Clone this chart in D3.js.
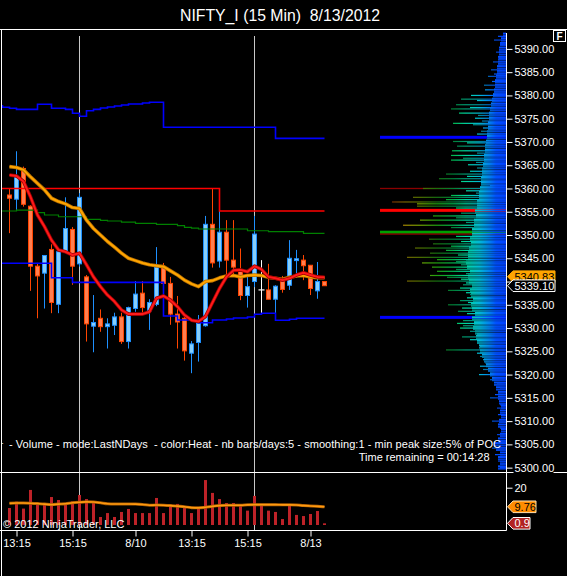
<!DOCTYPE html>
<html><head><meta charset="utf-8">
<script src="https://cdn.jsdelivr.net/npm/d3@7/dist/d3.min.js"></script>
<style>
html,body{margin:0;padding:0;background:#000;overflow:hidden}
svg{display:block}
text{font-family:"Liberation Sans",Arial,sans-serif;white-space:pre}
</style></head><body>
<svg id="chart" width="567" height="576"></svg>
<script>
// ---------------- DATA ----------------
const openP  = [5358.6,5357.7,5364.3,5356.2,5343.3,5341.8,5346.9,5335.1,5346.4,5351.2,5343.8,5341.0,5330.4,5332.1,5330.3,5330.6,5332.4,5327.1,5334.2,5337.5,5333.7,5335.1,5343.2,5339.6,5333.0,5332.1,5324.6,5326.9,5330.5,5352.3,5344.4,5350.6,5344.6,5342.6,5337.0,5340.0,5338.2,5338.2,5336.2,5340.3,5339.2,5344.5,5344.6,5343.5,5338.0,5340.0];
const highP  = [5360.0,5368.0,5364.7,5356.4,5344.0,5345.7,5348.0,5346.5,5358.1,5351.7,5359.0,5341.4,5337.1,5334.0,5332.1,5333.3,5333.3,5334.6,5340.1,5340.1,5336.2,5347.4,5344.0,5341.0,5336.9,5332.4,5327.2,5332.8,5354.1,5360.0,5357.0,5353.2,5353.2,5347.1,5341.0,5354.1,5344.6,5343.8,5339.2,5341.2,5348.9,5346.8,5345.7,5343.5,5344.2,5340.0];
const lowP   = [5350.4,5355.4,5356.1,5338.0,5332.1,5334.2,5333.2,5333.2,5346.3,5339.3,5343.2,5327.1,5324.8,5329.2,5325.6,5328.5,5326.6,5325.6,5333.5,5333.2,5329.6,5334.7,5337.6,5330.7,5325.6,5323.0,5320.3,5322.8,5330.3,5343.0,5343.0,5341.4,5341.0,5336.0,5334.4,5338.8,5333.2,5336.2,5331.6,5337.6,5338.2,5340.8,5340.3,5337.1,5336.3,5339.1];
const closeP = [5357.9,5362.5,5356.6,5343.3,5341.2,5345.6,5335.5,5346.4,5351.4,5343.3,5358.1,5330.9,5331.2,5330.3,5330.9,5332.4,5327.1,5334.4,5337.3,5334.4,5335.5,5343.1,5339.6,5333.0,5331.3,5325.1,5326.6,5331.0,5352.3,5344.0,5350.6,5344.6,5343.1,5337.0,5338.9,5350.2,5338.2,5336.2,5339.0,5338.3,5345.0,5344.9,5343.4,5338.5,5340.0,5339.1];

// moving averages (one value per bar)
const maSlow = [5364.7,5364.5,5364.0,5362.5,5361.1,5359.7,5357.9,5357.2,5356.7,5355.9,5355.7,5353.2,5351.4,5350.0,5348.6,5347.4,5346.1,5345.0,5344.5,5344.0,5343.6,5343.4,5343.2,5342.3,5341.4,5340.3,5339.5,5338.9,5340.0,5340.2,5340.8,5341.2,5341.3,5341.0,5341.3,5341.4,5341.3,5340.9,5340.7,5340.5,5340.9,5341.2,5341.3,5341.0,5340.8,5340.83];
const maFast = [5362.9,5362.7,5361.5,5358.2,5354.3,5351.8,5348.9,5346.8,5346.4,5345.7,5346.1,5343.6,5341.0,5338.9,5337.1,5335.7,5333.9,5333.0,5333.0,5333.0,5333.5,5336.4,5336.9,5336.0,5334.6,5332.8,5331.7,5331.4,5332.5,5335.5,5338.5,5341.0,5342.4,5342.5,5342.1,5343.3,5342.6,5341.0,5340.7,5340.3,5340.7,5341.4,5341.9,5341.4,5341.0,5340.9];

// step indicator lines, values for bars -2 .. 45
const stepUpper = [5377.79,5377.45,5377.23,5377.01,5377.01,5377.01,5378.09,5378.09,5377.23,5377.23,5377.01,5376.16,5375.51,5376.71,5377.01,5377.29,5377.51,5377.72,5377.94,5378.15,5378.15,5378.37,5378.52,5378.52,
  5373.15,5373.15,5373.15,5373.15,5373.15,5373.15,5373.15,5373.15,5373.15,5373.15,5373.15,5373.15,5373.15,5373.15,5373.15,5373.15,
  5370.78,5370.78,5370.78,5370.78,5370.78,5370.78,5370.78,5370.78];
const stepLower = [5343.92,5343.92,5343.92,5343.92,5343.92,5343.92,5343.92,5343.92,5340.82,5340.82,5340.82,
  5339.83,5339.83,5339.83,5339.83,5339.83,5339.83,5339.83,5339.83,5339.83,5339.83,5339.83,5339.83,5339.83,
  5332.59,5332.59,5331.73,5331.73,5331.73,5331.15,5331.15,5331.73,5331.73,5331.95,5332.16,5332.16,5332.38,5332.96,5333.17,5333.17,
  5331.67,5331.67,5331.88,5332.10,5332.10,5332.10,5332.10,5332.10];
const stepGreen = [5355.16,5355.16,5355.16,5355.37,5355.37,5355.37,5354.79,5354.30,5354.30,5353.93,5353.93,5353.93,5353.93,5353.37,5353.37,5353.16,5353.01,5353.01,5352.79,5352.79,5352.51,5352.51,5352.51,5352.30,5352.30,5352.30,5352.00,5351.65,5351.50,
  5351.29,5351.29,5351.29,5351.29,5351.29,5351.29,5351.29,5350.92,5350.92,5350.92,5350.71,5350.71,5350.71,5350.71,5350.71,5350.37,5350.37,5350.37,5350.37];
const stepRed = [5360,5360,5360,5360,5360,5360,5360,5360,5360,5360,5360,5360,5360,5360,5360,5360,5360,5360,5360,5360,5360,5360,5360,5360,5360,5360,5360,5360,5360,5360,5360,5360,
  5355.16,5355.16,5355.16,5355.16,5355.16,5355.16,5355.16,5355.16,5355.16,5355.16,5355.16,5355.16,5355.16,5355.16,5355.16,5355.16];

const volume = [9.1,12.5,8.8,18.8,11.3,11.3,15.0,13.4,11.3,12.7,16.1,13.9,12.0,4.3,6.4,4.3,7.0,8.6,6.4,6.4,6.4,14.5,6.4,10.9,11.3,9.1,6.4,9.1,24.1,17.2,13.9,11.8,11.8,10.9,7.7,15.6,11.3,7.7,7.0,3.2,10.4,5.4,4.8,5.9,7.5,0.9];
const volMA  = [11.6,11.8,11.8,11.7,11.5,11.2,10.9,11.2,11.4,11.9,12.2,12.4,12.3,11.9,11.4,11.3,11.3,11.3,11.2,11.0,10.6,10.7,10.6,10.4,10.1,9.8,9.3,9.2,9.5,10.0,10.4,10.6,10.6,10.6,10.8,10.9,10.9,10.9,10.9,10.8,10.8,10.7,10.4,10.2,10.0,9.76];

const timeTickBars   = [1,9,18,26,34,43];
const timeTickLabels = ['13:15','15:15','8/10','13:15','15:15','8/13'];
const sessionBreaks  = [10,35];
const priceTicks = [5300,5305,5310,5315,5320,5325,5330,5335,5340,5345,5350,5355,5360,5365,5370,5375,5380,5385,5390];
const volTicks = [20];

// volume profile (last N days): dense body per price level + individual rows + peak levels
const profLevels = [5300,5301,5302,5303,5304,5305,5306,5307,5308,5309,5310,5311,5312,5313,5314,5315,5316,5317,5318,5319,5320,5321,5322,5323,5324,5325,5326,5327,5328,5329,5330,5331,5332,5333,5334,5335,5336,5337,5338,5339,5340,5341,5342,5343,5344,5345,5346,5347,5348,5349,5350,5351,5352,5353,5354,5355,5356,5357,5358,5359,5360,5361,5362,5363,5364,5365,5366,5367,5368,5369,5370,5371,5372,5373,5374,5375,5376,5377,5378,5379,5380,5381,5382,5383,5384,5385,5386,5387,5388,5389,5390,5391,5392,5393];
const profBody   = [8,6,8,6,10,12,8,6,5,8,7,5,6,5,7,8,8,10,12,14,16,18,20,22,24,26,27,29,30,31,33,32,34,31,34,35,33,35,36,34,37,38,36,39,40,38,38,37,35,36,34,34,32,32,30,31,29,29,27,27,26,25,25,24,24,23,22,22,21,21,20,19,19,18,18,17,17,16,15,14,13,12,11,11,10,9,9,8,8,7,7,6,5,3];
const rowP = [5392.7,5391.9,5391.0,5389.3,5388.0,5387.2,5386.3,5385.5,5384.6,5384.1,5383.0,5382.2,5381.2,5380.7,5380.0,5379.2,5378.9,5378.0,5377.4,5377.1,5376.2,5375.7,5375.1,5374.5,5374.0,5373.7,5373.0,5372.3,5371.7,5370.1,5369.8,5369.1,5368.1,5367.6,5367.1,5366.5,5366.1,5365.6,5365.1,5364.4,5363.7,5363.1,5362.6,5362.1,5361.5,5361.0,5360.6,5360.0,5359.5,5359.0,5358.5,5358.1,5357.6,5357.1,5356.7,5356.2,5355.8,5354.7,5354.1,5353.7,5353.2,5352.7,5352.1,5351.6,5349.7,5349.1,5348.6,5348.1,5347.6,5347.2,5346.7,5346.1,5345.7,5345.2,5344.7,5344.3,5344.0,5343.6,5343.1,5342.6,5342.2,5341.7,5341.3,5340.9,5340.5,5340.1,5339.7,5339.3,5338.6,5338.1,5337.6,5337.2,5336.5,5335.9,5335.5,5335.0,5334.3,5333.6,5333.1,5331.6,5331.0,5330.5,5330.0,5329.3,5328.7,5328.1,5327.5,5326.8,5326.1,5325.3,5324.6,5323.9,5323.2,5322.5,5321.8,5321.1,5320.0,5318.9,5318.2,5317.1,5315.7,5315.0,5313.5,5312.8,5311.4,5310.0,5308.5,5307.1,5305.7,5304.2,5302.8,5301.4,5300.0];
const rowV = [8,12,6,10,7,13,9,15,12,18,14,22,21,12,35,45,29,50,36,55,47,28,31,24,53,33,23,25,29,53,39,49,54,29,55,43,55,30,38,29,36,60,39,67,45,25,16,83,40,30,55,93,60,114,89,89,50,45,73,50,86,40,103,55,50,77,45,73,55,91,60,76,48,99,69,50,84,45,74,50,69,40,76,59,45,99,40,43,46,58,40,36,39,46,38,58,44,48,39,43,49,43,46,36,29,44,36,29,26,60,29,26,23,21,26,23,27,16,9,6,11,16,6,9,8,14,6,9,6,14,11,8,6];
const peakP    = [5371.0,5360.0,5355.3,5350.6,5350.2,5332.3];
const peakKind = ['low','mid','high','high2','mid','low'];
const profMax = 126;

const lastPrice = 5339.10, lastMA = 5340.83, lastVol = 0.9, lastVolMA = 9.76;

// ---------------- CHART ----------------
const svg = d3.select('#chart');
svg.append('rect').attr('width',567).attr('height',576).attr('fill','#000');

const x  = d3.scaleLinear().domain([0,45]).range([9.5,324.5]);
const y  = d3.scaleLinear().domain([5300,5390]).range([467.65,48.9]);
const yv = d3.scaleLinear().domain([0,20]).range([525,487.7]);
const px = d3.scaleLinear().domain([0,profMax]).range([506,380]);

const defs = svg.append('defs');
defs.append('clipPath').attr('id','clipP').append('rect').attr('x',2).attr('y',30).attr('width',504).attr('height',442);
defs.append('clipPath').attr('id','clipV').append('rect').attr('x',2).attr('y',473).attr('width',504).attr('height',57);
function grad(id, stops){
  const g = defs.append('linearGradient').attr('id',id).attr('gradientUnits','userSpaceOnUse')
    .attr('x1',506).attr('x2',380).attr('y1',0).attr('y2',0);
  stops.forEach(s=>g.append('stop').attr('offset',s[0]).attr('stop-color',s[1]));
}
grad('heat',[[0,'#0040ff'],[0.08,'#0050ff'],[0.13,'#0080f0'],[0.21,'#00b8d8'],[0.32,'#00d8a0'],[0.42,'#00b850'],[0.55,'#20a010'],[0.68,'#70a000'],[0.8,'#a08800'],[0.9,'#a04000'],[1,'#900000']]);
grad('heatDim',[[0,'#0038e0'],[0.08,'#0044d8'],[0.13,'#0060c0'],[0.21,'#008898'],[0.32,'#009870'],[0.42,'#008038'],[0.55,'#187010'],[0.68,'#507000'],[0.8,'#786400'],[0.9,'#783000'],[1,'#680000']]);

// session break lines
svg.append('g').selectAll('line').data(sessionBreaks).join('line')
  .attr('x1',d=>x(d)).attr('x2',d=>x(d)).attr('y1',36).attr('y2',530)
  .attr('stroke','#c8c8c8').attr('stroke-width',1);

// volume profile
const prof = svg.append('g').attr('clip-path','url(#clipP)');
const peakStyle = {low:{c:'#0000ff',w:3}, high:{c:'#ff0000',w:3}, high2:{c:'#00a000',w:3}, mid:{c:'#8b0000',w:1.3}};
prof.selectAll('rect.peak').data(peakP).join('rect').attr('class','peak')
  .attr('x',px(profMax)).attr('width',px(0)-px(profMax))
  .attr('y',(d,i)=>y(d)-peakStyle[peakKind[i]].w/2).attr('height',(d,i)=>peakStyle[peakKind[i]].w)
  .attr('fill',(d,i)=>peakStyle[peakKind[i]].c);
// body: each price level drawn as two thin rows (bright / dim) for the striped heat look
const rowH = Math.abs(y(0.5)-y(0));
profBody.forEach((v,i)=>{
  const yc = y(profLevels[i]);
  prof.append('rect').attr('x',px(v)).attr('width',px(0)-px(v)).attr('y',yc-rowH).attr('height',rowH-0.35).attr('fill','url(#heat)');
  prof.append('rect').attr('x',px(v)).attr('width',px(0)-px(v)).attr('y',yc).attr('height',rowH-0.35).attr('fill','url(#heatDim)');
});
prof.selectAll('rect.row').data(rowV).join('rect').attr('class','row')
  .attr('x',d=>px(d)).attr('width',d=>px(0)-px(d))
  .attr('y',(d,i)=>y(rowP[i])-0.6).attr('height',1.2)
  .attr('fill',(d,i)=>i%2?'url(#heatDim)':'url(#heat)');

// candles
const pc = svg.append('g').attr('clip-path','url(#clipP)');
const bars = openP.map((o,i)=>({i,o,h:highP[i],l:lowP[i],c:closeP[i]}));
const colUp = {fill:'#87cefa',stroke:'#1e90ff'}, colDn = {fill:'#ff7f50',stroke:'#ff4500'};
bars.forEach(b=>{
  const cx = x(b.i);
  const doji = b.o===b.c;
  const col = doji ? {fill:'#fff',stroke:'#fff'} : (b.c>b.o?colUp:colDn);
  pc.append('line').attr('x1',cx).attr('x2',cx).attr('y1',y(b.h)).attr('y2',y(b.l))
    .attr('stroke',col.stroke).attr('stroke-width',1);
  if(doji){
    pc.append('line').attr('x1',cx-3).attr('x2',cx+3).attr('y1',y(b.o)).attr('y2',y(b.o))
      .attr('stroke','#fff').attr('stroke-width',1.2);
  } else {
    const top = y(Math.max(b.o,b.c)), bot = y(Math.min(b.o,b.c));
    pc.append('rect').attr('x',cx-2).attr('width',4).attr('y',top).attr('height',Math.max(bot-top,1))
      .attr('fill',col.fill).attr('stroke',col.stroke).attr('stroke-width',1);
  }
});

// step lines
const stepLine = d3.line().curve(d3.curveStepAfter).x((d,k)=>x(k-2)).y(d=>y(d));
[[stepUpper,'#0000ff',1.6],[stepLower,'#0000ff',1.6],[stepGreen,'#008000',1.2],[stepRed,'#ff0000',1.6]].forEach(s=>{
  pc.append('path').datum(s[0]).attr('d',stepLine).attr('fill','none').attr('stroke',s[1]).attr('stroke-width',s[2]);
});

// moving averages
const maLine = d3.line().x((d,i)=>x(i)).y(d=>y(d));
[[maSlow,'#b87000','#ffa500'],[maFast,'#a00000','#ff1a1a']].forEach(m=>{
  pc.append('path').datum(m[0]).attr('d',maLine).attr('fill','none').attr('stroke',m[1]).attr('stroke-width',3.6).attr('stroke-linejoin','round');
  pc.append('path').datum(m[0]).attr('d',maLine).attr('fill','none').attr('stroke',m[2]).attr('stroke-width',2).attr('stroke-linejoin','round');
});

// volume panel
const vg = svg.append('g').attr('clip-path','url(#clipV)');
vg.selectAll('rect').data(volume).join('rect')
  .attr('x',(d,i)=>x(i)-1.5).attr('width',3).attr('y',d=>yv(d)).attr('height',d=>yv(0)-yv(d))
  .attr('fill','#be2228');
const vLine = d3.line().curve(d3.curveMonotoneX).x((d,i)=>x(i)).y(d=>yv(d));
vg.append('path').datum(volMA).attr('d',vLine).attr('fill','none').attr('stroke','#a85a00').attr('stroke-width',3);
vg.append('path').datum(volMA).attr('d',vLine).attr('fill','none').attr('stroke','#ff9a10').attr('stroke-width',1.6);

// frame lines
const fr = svg.append('g').attr('stroke','#fff').attr('stroke-width',1);
fr.append('line').attr('x1',0).attr('x2',567).attr('y1',29.5).attr('y2',29.5);
fr.append('line').attr('x1',0).attr('x2',567).attr('y1',472.5).attr('y2',472.5);
fr.append('line').attr('x1',0).attr('x2',506.5).attr('y1',530.5).attr('y2',530.5);
fr.append('line').attr('x1',1.5).attr('x2',1.5).attr('y1',29.5).attr('y2',576);
fr.append('line').attr('x1',506.5).attr('x2',506.5).attr('y1',33).attr('y2',530.5);

// price axis
const pa = svg.append('g').attr('transform','translate(506.5,0)')
  .call(d3.axisRight(y).tickValues(priceTicks).tickSize(6).tickPadding(2).tickFormat(d3.format('.2f')));
pa.select('.domain').remove();
pa.selectAll('.tick line').attr('stroke','#fff');
pa.selectAll('.tick').insert('rect','text').attr('x',7).attr('y',-6).attr('width',40).attr('height',12).attr('fill','#000');
pa.selectAll('.tick text').attr('fill','#fff').attr('font-size',11).attr('font-family','"Liberation Sans",Arial,sans-serif');

// volume axis
const va = svg.append('g').attr('transform','translate(506.5,0)')
  .call(d3.axisRight(yv).tickValues(volTicks).tickSize(6).tickPadding(2));
va.select('.domain').remove();
va.selectAll('.tick line').attr('stroke','#fff');
va.selectAll('.tick text').attr('fill','#fff').attr('font-size',11).attr('font-family','"Liberation Sans",Arial,sans-serif');

// time axis
const ta = svg.append('g').attr('transform','translate(0,530.5)')
  .call(d3.axisBottom(x).tickValues(timeTickBars).tickSize(6).tickPadding(3).tickFormat((d,i)=>timeTickLabels[i]));
ta.select('.domain').remove();
ta.selectAll('.tick line').attr('stroke','#fff');
ta.selectAll('.tick text').attr('fill','#fff').attr('font-size',11).attr('font-family','"Liberation Sans",Arial,sans-serif');

// title
svg.append('text').attr('x',180).attr('y',21).attr('font-size',17).attr('fill','#fff')
  .attr('textLength',200).attr('lengthAdjust','spacingAndGlyphs').text('NIFTY_I (15 Min)  8/13/2012');

// F box
svg.append('rect').attr('x',553.5).attr('y',30.5).attr('width',12).attr('height',11).attr('fill','#000').attr('stroke','#fff');
svg.append('text').attr('x',559.5).attr('y',40).attr('text-anchor','middle').attr('font-size',10).attr('font-weight','bold').attr('fill','#fff').text('F');

// annotations
svg.append('text').attr('x',1).attr('y',446).attr('font-size',9).attr('fill','#fff').text('\u00b7');
svg.append('text').attr('x',9).attr('y',447.5).attr('font-size',11).attr('fill','#fff')
  .attr('textLength',492).attr('lengthAdjust','spacing')
  .text('- Volume - mode:LastNDays  - color:Heat - nb bars/days:5 - smoothing:1 - min peak size:5% of POC');
svg.append('text').attr('x',489.5).attr('y',460.5).attr('text-anchor','end').attr('font-size',11).attr('fill','#fff')
  .text('Time remaining = 00:14:28');
svg.append('text').attr('x',3).attr('y',527.5).attr('font-size',11).attr('fill','#fff').text('\u00a9 2012 NinjaTrader, LLC');

// value tags
function tag(yc, right, fill, stroke, txtCol, label){
  const g = svg.append('g');
  g.append('path').attr('d',`M507.5,${yc}L513,${yc-5.8}L${right},${yc-5.8}L${right},${yc+5.8}L513,${yc+5.8}Z`)
    .attr('fill',fill).attr('stroke',stroke).attr('stroke-width',1);
  g.append('text').attr('x',514.5).attr('y',yc).attr('dy','0.36em').attr('font-size',11).attr('fill',txtCol).text(label);
}
tag(y(lastMA)-1,555,'#ffa500','#ffa500','#000',d3.format('.2f')(lastMA));
tag(y(lastPrice),555,'#000','#fff','#fff',d3.format('.2f')(lastPrice));
tag(yv(lastVolMA),536,'#ff8c00','#ffe0b0','#000',String(lastVolMA));
tag(yv(lastVol),530,'#b22222','#fff','#fff',String(lastVol));
</script>
</body></html>
